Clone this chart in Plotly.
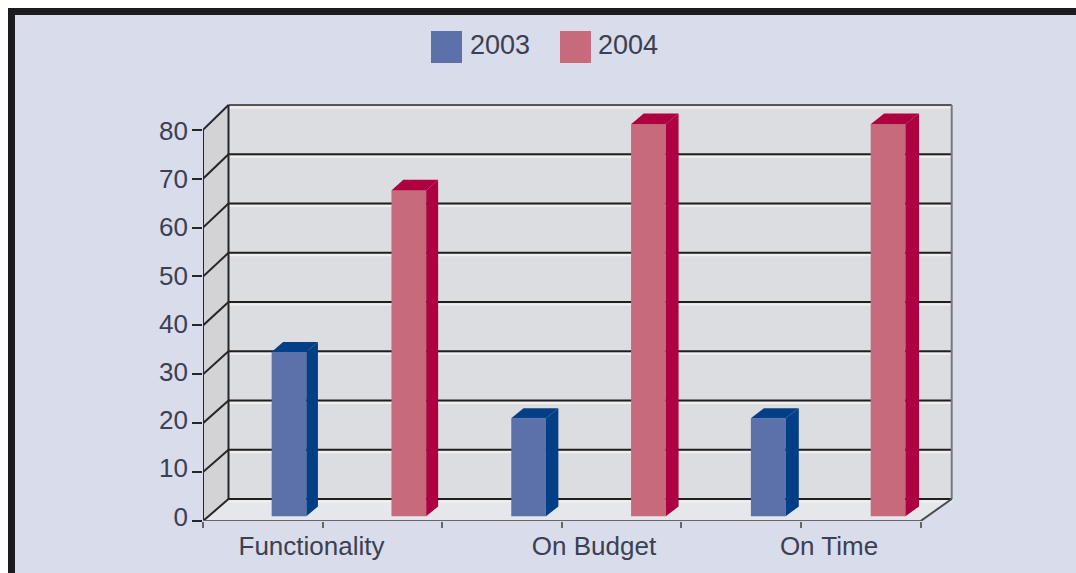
import plotly.graph_objects as go

# Chart data
categories = ["Functionality", "On Budget", "On Time"]
years = ["2003", "2004"]
values_2003 = [33.5, 20, 20]
values_2004 = [66.5, 80, 80]
y_ticks = [0, 10, 20, 30, 40, 50, 60, 70, 80]

# Page geometry (pixels)
W, H = 1076, 573
LEFT, RIGHT, TOP, BOTTOM = 203, 956, 100, 521.5
CAT_PX = 239.2      # width of one category on the front plane
UNIT_PX = 4.896     # height of one value unit on the front plane

# Oblique projection: depth 0 is the front plane, depth 1 the back wall
DX = 25.5 / CAT_PX
DY = 22 / UNIT_PX
BACK_SCALE_X = 1.0078
BACK_SCALE_Y = 1.007
Y_MAX = y_ticks[-1]
N = len(categories)


def project(x, v, d):
    return x * (1 + d * (BACK_SCALE_X - 1)) + d * DX, v * (1 + d * (BACK_SCALE_Y - 1)) + d * DY


def paper_x(px):
    return (px - LEFT) / (RIGHT - LEFT)


def paper_y(py):
    return (BOTTOM - py) / (BOTTOM - TOP)


def face(points, fill):
    path = "M" + " L".join(f"{x:.4f},{y:.4f}" for x, y in points) + " Z"
    return dict(type="path", path=path, xref="x", yref="y", layer="below",
                fillcolor=fill, line=dict(width=0))


def edge(a, b, color, width=2):
    return dict(type="line", xref="x", yref="y", layer="below",
                x0=a[0], y0=a[1], x1=b[0], y1=b[1],
                line=dict(color=color, width=width))


# Panel background and heavy border
shapes = [dict(type="rect", xref="paper", yref="paper", layer="below",
               x0=paper_x(11.5), x1=paper_x(1100), y0=paper_y(600), y1=paper_y(11.5),
               fillcolor="#d9dcea", line=dict(color="#1c1c20", width=7))]

# Walls and floor of the box
shapes.append(face([project(0, 0, 1), project(N, 0, 1), project(N, Y_MAX, 1), project(0, Y_MAX, 1)], "#dcdde0"))
shapes.append(face([project(0, 0, 0), project(0, Y_MAX, 0), project(0, Y_MAX, 1), project(0, 0, 1)], "#d3d3d6"))
shapes.append(face([project(0, 0, 0), project(N, 0, 0), project(N, 0, 1), project(0, 0, 1)], "#e6e7ea"))

# Gridlines across the back wall and down the side wall
for v in y_ticks:
    a, b, c = project(0, v, 0), project(0, v, 1), project(N, v, 1)
    shapes.append(edge((b[0], b[1] - 0.5), (c[0], c[1] - 0.5), "#f0f0f2", 2))
    if v == Y_MAX:
        shapes.append(edge(b, c, "#555558", 2))
    else:
        shapes.append(edge(b, c, "#1f1f22", 2))
    shapes.append(edge(a, b, "#26262a", 2))
shapes.append(edge(project(0, 0, 1), project(0, Y_MAX, 1), "#26262a", 2))
shapes.append(edge(project(N, 0, 1), project(N, Y_MAX, 1), "#77777c", 2))

fig = go.Figure()

# Bars: front face as a bar, side and top faces as filled polygons
FRONT_COLORS = ["#5c70aa", "#c66a7c"]
DARK_COLORS = ["#023f86", "#ad0141"]
BAR_W = 0.145
BAR_D0, BAR_D1 = 0.22, 0.66
SLOT_START, SLOT_STEP = 0.263, 0.5

for s, (year, vals) in enumerate(zip(years, [values_2003, values_2004])):
    xs, tops, bases = [], [], []
    for i, v in enumerate(vals):
        left = i + SLOT_START + s * SLOT_STEP
        right = left + BAR_W
        bx, by = project(left, 0, BAR_D0)
        rx, _ = project(right, 0, BAR_D0)
        tx, ty = project(left, v, BAR_D0)
        xs.append((bx + rx) / 2)
        bases.append(by)
        tops.append(ty - by)
        side = [project(right, 0, BAR_D0), project(right, 0, BAR_D1),
                project(right, v, BAR_D1), project(right, v, BAR_D0)]
        top = [project(left, v, BAR_D0), project(right, v, BAR_D0),
               project(right, v, BAR_D1), project(left, v, BAR_D1)]
        for poly in (side, top):
            fig.add_trace(go.Scatter(
                x=[p[0] for p in poly] + [poly[0][0]],
                y=[p[1] for p in poly] + [poly[0][1]],
                mode="lines", fill="toself", fillcolor=DARK_COLORS[s],
                line=dict(width=0), hoverinfo="skip", showlegend=False))
    fig.add_trace(go.Bar(x=xs, y=tops, base=bases, width=BAR_W, name=year,
                         marker=dict(color=FRONT_COLORS[s], line=dict(width=0)),
                         showlegend=False))

# Front edges of the box, free to run along the plot boundary
outline = [
    ([project(0, Y_MAX, 0), project(0, 0, 0)], "#26262a"),
    ([project(0, 0, 0), project(N, 0, 0)], "#66666a"),
    ([project(N, 0, 0), project(N, 0, 1)], "#4a4a4e"),
]
for pts, color in outline:
    fig.add_trace(go.Scatter(x=[p[0] for p in pts], y=[p[1] for p in pts],
                             mode="lines", line=dict(color=color, width=2),
                             cliponaxis=False, hoverinfo="skip", showlegend=False))

# Carrier trace for the overlaid label axes
fig.add_trace(go.Scatter(x=[0], y=[0], xaxis="x2", yaxis="y2", mode="markers",
                         marker=dict(opacity=0), hoverinfo="skip", showlegend=False))

# Legend
TEXT = "#3b4052"
FONT = "Liberation Sans"
legend_items = [(431, 462, 470, years[0], FRONT_COLORS[0]),
                (560, 591, 598, years[1], FRONT_COLORS[1])]
annotations = []
for x0, x1, tx, label, color in legend_items:
    shapes.append(dict(type="rect", xref="paper", yref="paper",
                       x0=paper_x(x0), x1=paper_x(x1), y0=paper_y(63), y1=paper_y(31),
                       fillcolor=color, line=dict(width=0)))
    annotations.append(dict(text=label, xref="paper", yref="paper", showarrow=False,
                            x=paper_x(tx), y=paper_y(45), xanchor="left", yanchor="middle",
                            xshift=-2, font=dict(family=FONT, size=27, color=TEXT)))

x_range = [0, (RIGHT - LEFT) / CAT_PX]
y_range = [0, (BOTTOM - TOP) / UNIT_PX]

# Label axes sit slightly offset from the tick marks
label_centres = [(311.5 - LEFT) / CAT_PX, (594 - LEFT) / CAT_PX, (829 - LEFT) / CAT_PX]
label_unit = 4.825
label_zero_py = 517

fig.update_layout(
    width=W, height=H, autosize=False,
    margin=dict(l=LEFT, r=W - RIGHT, t=TOP, b=H - BOTTOM),
    paper_bgcolor="#ffffff", plot_bgcolor="rgba(0,0,0,0)",
    showlegend=False, barmode="overlay",
    shapes=shapes, annotations=annotations,
    xaxis=dict(range=x_range, showgrid=False, zeroline=False, showline=False,
               automargin=False,
               tickmode="array", tickvals=[k * 0.5 for k in range(2 * N + 1)],
               showticklabels=False, ticks="outside", ticklen=6, tickwidth=2,
               tickcolor="#66666a"),
    yaxis=dict(range=y_range, showgrid=False, zeroline=False, showline=False,
               automargin=False,
               tickmode="array", tickvals=y_ticks, showticklabels=False,
               ticks="outside", ticklen=10, tickwidth=2, tickcolor="#26262a"),
    xaxis2=dict(range=x_range, overlaying="x", anchor="y2", side="bottom",
                showgrid=False, zeroline=False, showline=False, ticks="",
                automargin=False,
                tickmode="array", tickvals=label_centres, ticktext=categories,
                ticklabelstandoff=7,
                tickfont=dict(family=FONT, size=26, color=TEXT)),
    yaxis2=dict(range=[(label_zero_py - BOTTOM) / label_unit, (label_zero_py - TOP) / label_unit],
                overlaying="y", anchor="x2", side="left",
                showgrid=False, zeroline=False, showline=False, ticks="",
                automargin=False,
                tickmode="array", tickvals=y_ticks, ticklabelstandoff=14,
                tickfont=dict(family=FONT, size=26, color=TEXT)),
)

fig.write_html("out.html", config=dict(displayModeBar=False))
